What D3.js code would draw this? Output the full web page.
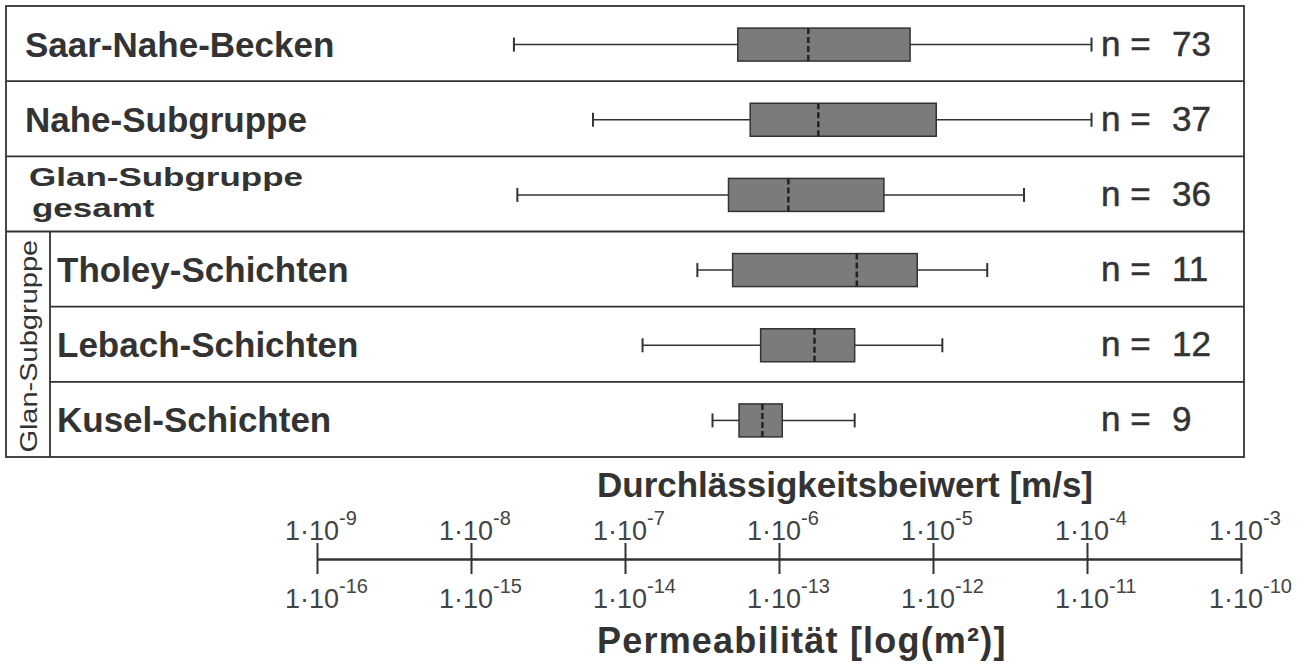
<!DOCTYPE html>
<html>
<head>
<meta charset="utf-8">
<script src="https://cdn.jsdelivr.net/npm/d3@7"></script>
<style>
  body { margin: 0; background: #fff; }
  svg { font-family: "Liberation Sans", Arial, sans-serif; }
</style>
</head>
<body>
<svg id="canvas" width="1306" height="668"></svg>
<script>
// data (K in m/s)
let groups = ['Saar-Nahe-Becken', 'Nahe-Subgruppe', 'Glan-Subgruppe gesamt', 'Tholey-Schichten', 'Lebach-Schichten', 'Kusel-Schichten'];
let counts = [73, 37, 36, 11, 12, 9];
let whiskerMin = [1.9e-8, 6.2e-8, 2.0e-8, 2.95e-7, 1.3e-7, 3.7e-7];
let quart1 = [5.4e-7, 6.5e-7, 4.7e-7, 5.0e-7, 7.6e-7, 5.5e-7];
let median = [1.55e-6, 1.8e-6, 1.15e-6, 3.2e-6, 1.7e-6, 7.8e-7];
let quart3 = [7.1e-6, 1.05e-5, 4.8e-6, 7.9e-6, 3.1e-6, 1.05e-6];
let whiskerMax = [1.07e-4, 1.07e-4, 3.9e-5, 2.25e-5, 1.15e-5, 3.1e-6];
let kTicks = [1e-9, 1e-8, 1e-7, 1e-6, 1e-5, 1e-4, 1e-3];
let permTicks = [1e-16, 1e-15, 1e-14, 1e-13, 1e-12, 1e-11, 1e-10];

let ink = '#333';
let canvas = d3.select('#canvas');

let x = d3.scaleLog().domain([1e-9, 1e-3]).range([317, 1241]);
let xPerm = d3.scaleLog().domain([1e-16, 1e-10]).range([317, 1241]);
let y = d3.scaleBand().domain(groups).range([6, 457]);

let frameL = 6, frameR = 1244, innerL = 50;

// frame and row separators
canvas.append('rect')
  .attr('x', frameL).attr('y', 6)
  .attr('width', frameR - frameL).attr('height', 457 - 6)
  .attr('fill', 'none').attr('stroke', ink).attr('stroke-width', 1.8);

groups.slice(1).forEach((g, i) => {
  let yy = y(g);
  canvas.append('line')
    .attr('x1', i + 1 >= 4 ? innerL : frameL).attr('x2', frameR)
    .attr('y1', yy).attr('y2', yy)
    .attr('stroke', ink).attr('stroke-width', 1.8);
});
canvas.append('line')
  .attr('x1', innerL).attr('x2', innerL)
  .attr('y1', y(groups[3])).attr('y2', 457)
  .attr('stroke', ink).attr('stroke-width', 1.8);

// vertical group label
canvas.append('g')
  .attr('transform', 'translate(37,' + ((y(groups[3]) + 457) / 2 + 2) + ') rotate(-90) scale(1,0.85)')
  .append('text')
  .attr('text-anchor', 'middle')
  .attr('font-size', 29)
  .attr('fill', ink)
  .text('Glan-Subgruppe');

// row labels
groups.forEach((g, i) => {
  let cy = y(g) + y.bandwidth() / 2;
  if (i === 2) {
    // two-line label, squeezed vertically like the original
    let lt = canvas.append('g').attr('transform', 'translate(29,' + (cy - 8) + ') scale(1,0.75)')
      .append('text').attr('font-size', 35).attr('font-weight', 'bold').attr('fill', ink);
    lt.append('tspan').attr('x', 0).attr('y', 0).text('Glan-Subgruppe');
    lt.append('tspan').attr('x', 3).attr('y', 41).text('gesamt');
  } else {
    canvas.append('text')
      .attr('x', i >= 3 ? 57 : 25)
      .attr('y', cy + 13)
      .attr('font-size', 35)
      .attr('font-weight', 'bold')
      .attr('fill', ink)
      .text(g);
  }
  // n labels
  canvas.append('text')
    .attr('x', 1101).attr('y', cy + 12)
    .attr('font-size', 35).attr('fill', ink).attr('stroke', ink).attr('stroke-width', 0.5)
    .text('n =');
  canvas.append('text')
    .attr('x', 1172).attr('y', cy + 12)
    .attr('font-size', 35).attr('fill', ink).attr('stroke', ink).attr('stroke-width', 0.5)
    .text(counts[i]);
});

// boxes
let boxH = 33, capH = 14;
let rows = canvas.selectAll('.row')
  .data(groups)
  .enter()
  .append('g')
  .attr('class', 'row')
  .attr('transform', (g) => 'translate(0,' + (y(g) + y.bandwidth() / 2 + 1) + ')');

rows.append('line')
  .attr('x1', (g, i) => x(whiskerMin[i])).attr('x2', (g, i) => x(quart1[i]))
  .attr('stroke', ink).attr('stroke-width', 1.5);
rows.append('line')
  .attr('x1', (g, i) => x(quart3[i])).attr('x2', (g, i) => x(whiskerMax[i]))
  .attr('stroke', ink).attr('stroke-width', 1.5);
rows.append('line')
  .attr('x1', (g, i) => x(whiskerMin[i])).attr('x2', (g, i) => x(whiskerMin[i]))
  .attr('y1', -capH / 2).attr('y2', capH / 2)
  .attr('stroke', ink).attr('stroke-width', 2);
rows.append('line')
  .attr('x1', (g, i) => x(whiskerMax[i])).attr('x2', (g, i) => x(whiskerMax[i]))
  .attr('y1', -capH / 2).attr('y2', capH / 2)
  .attr('stroke', ink).attr('stroke-width', 2);
rows.append('rect')
  .attr('x', (g, i) => x(quart1[i]))
  .attr('width', (g, i) => x(quart3[i]) - x(quart1[i]))
  .attr('y', -boxH / 2).attr('height', boxH)
  .attr('fill', '#7b7b7b').attr('stroke', ink).attr('stroke-width', 1.5);
rows.append('line')
  .attr('x1', (g, i) => x(median[i])).attr('x2', (g, i) => x(median[i]))
  .attr('y1', -boxH / 2).attr('y2', boxH / 2)
  .attr('stroke', '#222').attr('stroke-width', 2.5)
  .attr('stroke-dasharray', '6,3');

// double axis
let axisY = 559;
let topAxis = canvas.append('g')
  .attr('transform', 'translate(0,' + axisY + ')')
  .call(d3.axisTop(x).tickValues(kTicks).tickSize(16).tickSizeOuter(0).tickFormat(''));
let botAxis = canvas.append('g')
  .attr('transform', 'translate(0,' + axisY + ')')
  .call(d3.axisBottom(xPerm).tickValues(permTicks).tickSize(15).tickSizeOuter(0).tickFormat(''));
[topAxis, botAxis].forEach((a) => {
  a.selectAll('path, line').attr('stroke', ink).attr('stroke-width', 2);
});

let powLabel = (sel, val) => {
  sel.append('tspan').text('1\u00b710');
  sel.append('tspan').attr('font-size', 20).attr('dy', -15).text(Math.round(Math.log10(val)));
};
kTicks.forEach((t) => {
  canvas.append('text')
    .attr('x', x(t) - 32).attr('y', 540)
    .attr('font-size', 27).attr('fill', '#444')
    .call(powLabel, t);
});
permTicks.forEach((t) => {
  canvas.append('text')
    .attr('x', xPerm(t) - 32).attr('y', 608)
    .attr('font-size', 27).attr('fill', '#444')
    .call(powLabel, t);
});

// axis titles
canvas.append('text')
  .attr('x', 597).attr('y', 497)
  .attr('font-size', 35).attr('font-weight', 'bold').attr('fill', ink)
  .text('Durchlässigkeitsbeiwert [m/s]');
canvas.append('text')
  .attr('x', 597).attr('y', 653)
  .attr('font-size', 36).attr('font-weight', 'bold').attr('fill', ink)
  .attr('letter-spacing', 1.2)
  .text('Permeabilität [log(m²)]');
</script>
</body>
</html>
